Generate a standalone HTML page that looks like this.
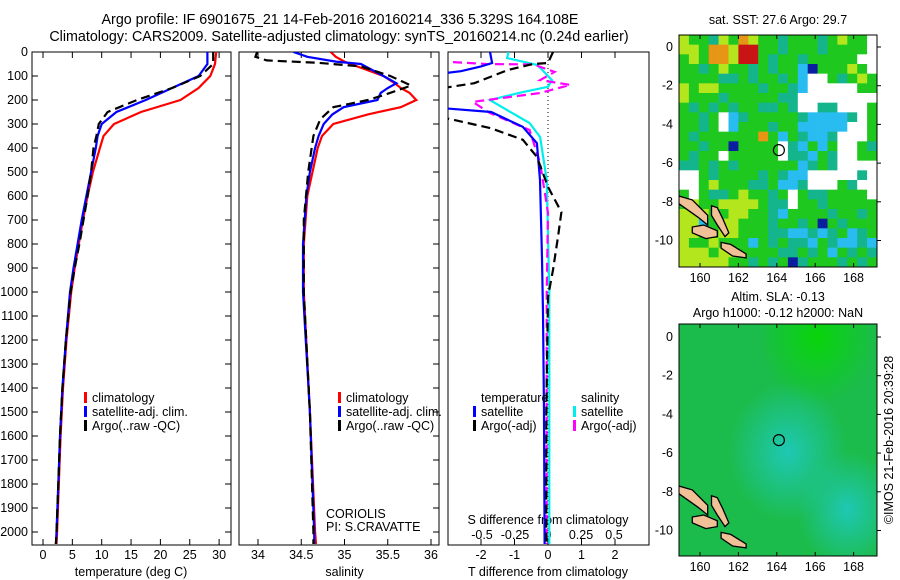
<!DOCTYPE html>
<html><head><meta charset="utf-8"><style>
body{margin:0;background:#fff}
svg{display:block;font-family:"Liberation Sans",sans-serif;font-size:12.5px}
</style></head><body>
<svg id="c" width="900" height="580" viewBox="0 0 900 580">
<text x="340" y="24" text-anchor="middle" style="font-size:14.3px">Argo profile: IF 6901675_21 14-Feb-2016 20160214_336 5.329S 164.108E</text>
<text x="339" y="41" text-anchor="middle" style="font-size:14.3px">Climatology: CARS2009. Satellite-adjusted climatology: synTS_20160214.nc (0.24d earlier)</text>
<g id="g"></g>
<text x="778" y="24" text-anchor="middle">sat. SST: 27.6 Argo: 29.7</text>
<text x="778" y="301" text-anchor="middle">Altim. SLA: -0.13</text>
<text x="778" y="317" text-anchor="middle">Argo h1000: -0.12 h2000: NaN</text>
<text transform="translate(893,440) rotate(-90)" text-anchor="middle">©IMOS 21-Feb-2016 20:39:28</text>
</svg>
<script>
// ---- data ----
const depthTicks=[0,100,200,300,400,500,600,700,800,900,1000,1100,1200,1300,1400,1500,1600,1700,1800,1900,2000];
const tTicks=[0,5,10,15,20,25,30];
const sTicks=[34,34.5,35,35.5,36];
const dTTicks=[-2,-1,0,1,2];
const dSTicks=[-0.5,-0.25,0,0.25,0.5];
const dSTickLabels=["-0.5","-0.25","0","0.25","0.5"];
const lonTicks=[160,162,164,166,168];
const latTicks=[0,-2,-4,-6,-8,-10];
const profDepth=[0,50,100,150,200,250,300,350,400,500,600,700,800,900,1000,1200,1400,1600,1800,2000,2050];
const tempClim=[29.5,29.3,28.5,26.5,23.4,16.7,12.1,10.3,9.7,8.5,7.6,6.8,6.1,5.4,4.8,4.0,3.4,3.0,2.7,2.4,2.3];
const tempSat=[28.0,28.0,26.5,22.0,17.5,12.5,10.0,9.3,9.0,8.2,7.4,6.6,5.9,5.2,4.6,3.9,3.3,2.9,2.6,2.3,2.2];
const tempArgo=[29.0,29.0,26.8,22.0,16.0,11.0,9.5,9.1,8.6,8.2,7.6,6.9,6.2,5.4,4.7,3.9,3.3,2.9,2.6,2.3,2.2];
const salDepth=[0,20,40,50,100,130,150,170,200,230,260,300,350,400,500,600,800,1000,1500,2000,2050];
const salClim=[34.84,34.90,35.00,35.07,35.45,35.58,35.65,35.75,35.83,35.65,35.27,34.87,34.74,34.69,34.63,34.57,34.53,34.53,34.60,34.66,34.67];
const salSat=[34.41,34.57,34.90,35.19,35.45,35.60,35.50,35.42,35.38,34.99,34.86,34.76,34.70,34.66,34.60,34.56,34.52,34.52,34.60,34.65,34.65];
const salArgoDepth=[0,20,35,45,60,100,140,180,200,230,280,350,500,700,1000,1500,2000,2050];
const salArgo=[33.99,33.97,34.10,34.69,35.19,35.53,35.77,35.45,35.27,34.87,34.72,34.64,34.58,34.53,34.53,34.60,34.64,34.64];
const dTSatDepth=[0,46,60,80,95,230,250,312,380,533,860,1087,1500,2050];
const dTSat=[-1.73,-1.67,-2.0,-2.6,-3.5,-3.5,-1.7,-0.75,-0.33,-0.24,-0.18,-0.15,-0.12,-0.1];
const dTArgoDepth=[0,46,50,75,130,145,160,265,280,318,366,437,562,667,770,908,1020,1500,2050];
const dTArgo=[0.15,0,-0.45,-1.2,-2.2,-2.9,-3.5,-3.5,-2.9,-1.7,-0.75,-0.33,0,0.4,0.3,0.15,0,-0.05,-0.05];
const dSSatDepth=[0,25,54,117,145,167,200,242,296,354,533,1000,2050];
const dSSat=[-0.30,-0.31,-0.08,0.03,0,-0.19,-0.44,-0.31,-0.14,-0.06,-0.01,0.01,0.01];
const dSArgoDepth=[42,50,52,83,117,137,171,208,254,325,462,670,1000,2050];
const dSArgo=[-0.72,-0.47,-0.11,0.05,-0.06,0.17,-0.06,-0.57,-0.44,-0.14,-0.06,0,-0.01,-0.01];
const sstGrid=["YGGTYGOYGGTGGGTGYGGW","YYGOOYRRGGTGGGTGGGGW","GYGOOYRRGTGGTGGGGGWW","GGTGYGGTGTGGBDGGGYGW","GGGGTTGTGGTGBWWGTGYG","YGYYGGGGTGGTBWWWWWGG","YGGGTGGGGGTTWWWWWWWW","GTGTGTGGTTGTWWTTWWWG","GGTGWBTGGGGGTBBBBTWG","GGTGWBGGGTGGBBBBBWWG","GTGGGGGGOGBGTBBTWWWG","GGTGGDGGGGWTBGBGWWGT","GTGGWGGGGGWTTBGTWWGG","TTGTGTGGGGGGBTGTWWWW","WWGTGGGGTGTBBWWWWWTW","WWGYGGGTTGBBTWWWGTWW","GWGTTGYGGTGWGTTGGGGW","GYGGYYYYGTTWGGTGGGGG","YYYGGYYGGTBGGGGTGGTG","YYBGYYGGGTGGTGDGTGGG","YYGGYYGGGTTBBTBTGBTG","YGGYGGGBGTGTTBGTBBTB","YYYGYYGGGGTTGTGBGTGT","YYYYYGGTGTGDTGGGTGTG"];
const islands=[[[158.9,-7.7],[159.6,-7.9],[160.4,-8.7],[160.4,-9.2],[159.9,-8.8],[158.9,-8.1]],[[160.6,-8.2],[160.9,-8.3],[161.2,-8.9],[161.5,-9.6],[161.3,-9.8],[160.9,-9.2],[160.6,-8.7]],[[159.6,-9.3],[160.2,-9.2],[160.9,-9.5],[160.9,-9.8],[160.3,-9.9],[159.6,-9.6]],[[161.1,-10.1],[161.6,-10.2],[162.4,-10.7],[162.4,-10.9],[161.7,-10.8],[161.1,-10.4]]];
const floatPos=[164.108,-5.329];
// ---- drawing ----
const NS="http://www.w3.org/2000/svg",G=document.getElementById('g');
function el(t,a,p){const e=document.createElementNS(NS,t);for(const k in a)e.setAttribute(k,a[k]);(p||G).appendChild(e);return e;}
function txt(x,y,s,anchor,p){const e=el('text',{x:x,y:y,'text-anchor':anchor||'middle'},p);e.textContent=s;return e;}
const yD=d=>52+d*0.24;const PB=545;
const xT=v=>43+v*5.87, xS=v=>258+(v-34)*86.5, xDT=v=>548+v*33.5, xDS=v=>548+v*132;
const defs=el('defs',{});
function clip(id,x1,x2){const c=el('clipPath',{id:id},defs);el('rect',{x:x1,y:52,width:x2-x1,height:PB-52},c);}
clip('c1',32,231);clip('c2',239,439);clip('c3',448,649);
function line(xf,vals,deps,color,dash,name,cl){
  const pts=vals.map((v,i)=>xf(v).toFixed(1)+','+yD(deps[i]).toFixed(1)).join(' ');
  const e=el('polyline',{points:pts,fill:'none',stroke:color,'stroke-width':2.2,'stroke-dasharray':dash||'none','clip-path':'url(#'+cl+')'});
  
  
}
function frame(x1,x2,name){const r=el('rect',{x:x1,y:52,width:x2-x1,height:PB-52,fill:'none',stroke:'#000','stroke-width':1});
  
  }
// panel 1
frame(32,231,'temperature-panel');
depthTicks.forEach(d=>{const y=yD(d);el('line',{x1:32,y1:y,x2:38,y2:y,stroke:'#000'});el('line',{x1:225,y1:y,x2:231,y2:y,stroke:'#000'});
  const t=txt(28,y+4,String(d),'end');});
tTicks.forEach(v=>{const x=xT(v);el('line',{x1:x,y1:PB,x2:x,y2:PB-6,stroke:'#000'});el('line',{x1:x,y1:52,x2:x,y2:58,stroke:'#000'});
  const t=txt(x,559,String(v));});
txt(xT(15),576,'temperature (deg C)');
line(xT,tempClim,profDepth,'#f00',null,'temp-climatology-line','c1');
line(xT,tempSat,profDepth,'#00f',null,'temp-satellite-line','c1');
line(xT,tempArgo,profDepth,'#000','9,5','temp-argo-line','c1');
// panel 2
frame(239,439,'salinity-panel');
depthTicks.forEach(d=>{const y=yD(d);el('line',{x1:433,y1:y,x2:439,y2:y,stroke:'#000'});});
sTicks.forEach(v=>{const x=xS(v);el('line',{x1:x,y1:PB,x2:x,y2:PB-6,stroke:'#000'});el('line',{x1:x,y1:52,x2:x,y2:58,stroke:'#000'});
  const t=txt(x,559,String(v));});
txt(xS(35),576,'salinity');
line(xS,salClim,salDepth,'#f00',null,'sal-climatology-line','c2');
line(xS,salSat,salDepth,'#00f',null,'sal-satellite-line','c2');
line(xS,salArgo,salArgoDepth,'#000','9,5','sal-argo-line','c2');
// panel 3
frame(448,649,'difference-panel');
el('line',{x1:548,y1:52,x2:548,y2:PB,stroke:'#000','stroke-dasharray':'1,3'});
dTTicks.forEach(v=>{const x=xDT(v);el('line',{x1:x,y1:PB,x2:x,y2:PB-6,stroke:'#000'});el('line',{x1:x,y1:52,x2:x,y2:58,stroke:'#000'});
  const t=txt(x,559,String(v));});
dSTicks.forEach((v,i)=>{const t=txt(xDS(v),539,dSTickLabels[i]);});
txt(548,524,'S difference from climatology');
txt(548,576,'T difference from climatology');
line(xDS,dSSat,dSSatDepth,'#0ee',null,'sal-diff-satellite-line','c3');
line(xDS,dSArgo,dSArgoDepth,'#f0f','9,5','sal-diff-argo-line','c3');
line(xDT,dTSat,dTSatDepth,'#00f',null,'temp-diff-satellite-line','c3');
line(xDT,dTArgo,dTArgoDepth,'#000','9,5','temp-diff-argo-line','c3');
// legends
function leg(x,y,c,s,name){el('rect',{x:x,y:y-10,width:3,height:11,fill:c});const t=txt(x+8,y,s,'start');}
[[84,'c1'],[338,'c2']].forEach(([x])=>{leg(x,402,'#f00','climatology','legend-climatology');leg(x,416,'#00f','satellite-adj. clim.','legend-satellite');leg(x,430,'#000','Argo(..raw -QC)','legend-argo');});
txt(326,518,'CORIOLIS','start');
txt(326,531,'PI: S.CRAVATTE','start');
txt(481,402,'temperature','start');txt(581,402,'salinity','start');
leg(473,416,'#00f','satellite','legend-t-satellite');leg(473,430,'#000','Argo(-adj)','legend-t-argo');
leg(573,416,'#0ee','satellite','legend-s-satellite');leg(573,430,'#f0f','Argo(-adj)','legend-s-argo');
// maps
const MX1=679,MX2=877,lonX=l=>700+(l-160)*19.2;
const maps=[{top:35,bot:267,y0:47,name:'sst-map',id:'m1'},{top:324,bot:556,y0:337,name:'sla-map',id:'m2'}];
const col={G:'#1ec81e',T:'#14b48c',Y:'#b4e61e',B:'#28bcf0',W:'#ffffff',O:'#e69614',R:'#c81414',D:'#0a1ea0'};
maps.forEach((m,mi)=>{
  const latY=l=>m.y0-l*19.35;
  const c=el('clipPath',{id:m.id},defs);el('rect',{x:MX1,y:m.top,width:MX2-MX1,height:m.bot-m.top},c);
  const g=el('g',{'clip-path':'url(#'+m.id+')'});
  
  
  if(mi===0){const cw=(MX2-MX1)/20,ch=(m.bot-m.top)/24;
    sstGrid.forEach((row,r)=>{for(let k=0;k<row.length;k++){el('rect',{x:MX1+k*cw,y:m.top+r*ch,width:cw+0.3,height:ch+0.3,fill:col[row[k]]},g);}});
  }else{
    const gr=el('radialGradient',{id:'sg1',cx:'0.55',cy:'0.55',r:'0.3'},defs);
    el('stop',{offset:'0','stop-color':'#1ec8b4'},gr);el('stop',{offset:'1','stop-color':'#1ec8b4','stop-opacity':0},gr);
    const gr2=el('radialGradient',{id:'sg2',cx:'0.85',cy:'0.8',r:'0.25'},defs);
    el('stop',{offset:'0','stop-color':'#1ec8b4'},gr2);el('stop',{offset:'1','stop-color':'#1ec8b4','stop-opacity':0},gr2);
    const gr3=el('radialGradient',{id:'sg3',cx:'0.7',cy:'0.05',r:'0.3'},defs);
    el('stop',{offset:'0','stop-color':'#08d40a'},gr3);el('stop',{offset:'1','stop-color':'#08d40a','stop-opacity':0},gr3);
    el('rect',{x:MX1,y:m.top,width:MX2-MX1,height:m.bot-m.top,fill:'#1cbc4c'},g);
    ['sg1','sg2','sg3'].forEach(id=>el('rect',{x:MX1,y:m.top,width:MX2-MX1,height:m.bot-m.top,fill:'url(#'+id+')'},g));
  }
  islands.forEach(p=>{const e=el('polygon',{points:p.map(q=>lonX(q[0]).toFixed(1)+','+latY(q[1]).toFixed(1)).join(' '),fill:'#f0c096',stroke:'#000','stroke-width':1.3},g);
    });
  const ci=el('circle',{cx:lonX(floatPos[0]),cy:latY(floatPos[1]),r:5.5,fill:'none',stroke:'#000','stroke-width':1.2});
  
  frame2(m);
  lonTicks.forEach(l=>{const x=lonX(l);el('line',{x1:x,y1:m.top,x2:x,y2:m.top+4,stroke:'#000'});el('line',{x1:x,y1:m.bot,x2:x,y2:m.bot-4,stroke:'#000'});
    const t=txt(x,m.bot+15,String(l));});
  latTicks.forEach(l=>{const y=latY(l);el('line',{x1:MX2,y1:y,x2:MX2+4,y2:y,stroke:'#000'});
    const t=txt(MX1-6,y+4,String(l),'end');});
});
function frame2(m){const r=el('rect',{x:MX1,y:m.top,width:MX2-MX1,height:m.bot-m.top,fill:'none',stroke:'#000'});
  }
</script>
</body></html>
